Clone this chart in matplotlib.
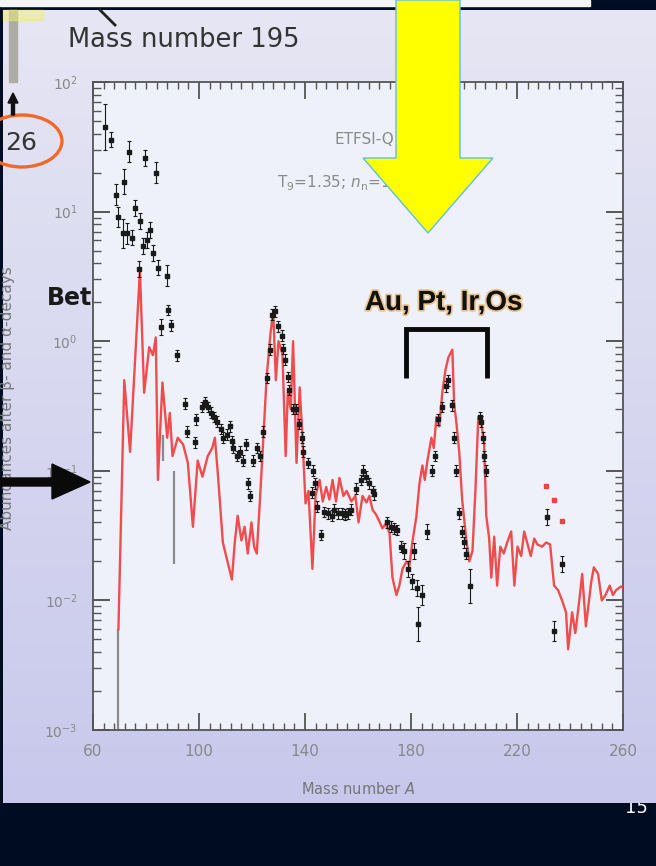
import numpy as np
import matplotlib
matplotlib.use("Agg")
import matplotlib.pyplot as plt
from matplotlib.patches import Polygon, Rectangle, Ellipse
from matplotlib.ticker import FixedLocator, MultipleLocator, LogLocator, LogFormatterSciNotation, NullFormatter
import matplotlib.patheffects as pe

# --- data ---
# model curve (red line)
model_A = [69.6, 71.8, 74.0, 77.7, 79.3, 81.2, 82.6, 83.7, 84.5, 86.2, 88.0, 89.0, 90.0, 92.0, 94.0,
           95.8, 97.7, 99.5, 101.3, 103.3, 105.0, 106.0, 107.2, 109.0, 111.0, 112.4, 113.5, 114.6,
           116.0, 117.2, 118.4, 119.8, 120.8, 121.8, 122.9, 124.0, 125.5, 127.0, 128.0, 129.0,
           130.0, 131.5, 132.7, 133.5, 134.6, 135.5, 136.8, 138.0, 139.0, 140.2, 141.3, 142.8,
           144.0, 145.5, 146.7, 148.0, 149.2, 150.4, 151.7, 153.0, 154.5, 155.7, 157.5, 159.0,
           160.2, 161.7, 163.2, 164.3, 165.5, 166.8, 168.0, 169.2, 170.5, 171.9, 173.0, 174.5,
           175.6, 176.8, 178.3, 179.4, 180.5, 182.0, 183.2, 184.3, 185.2, 186.2, 187.7, 188.6,
           189.6, 190.7, 191.8, 193.0, 194.1, 195.6, 196.3, 197.0, 198.2, 199.3, 200.9, 202.0,
           203.2, 204.3, 205.4, 206.5, 207.6, 208.4, 209.5, 210.3, 211.4, 212.5, 213.7, 215.0,
           216.3, 217.8, 219.0, 220.2, 221.6, 222.7, 223.8, 225.2, 226.5, 227.7, 229.5, 231.0,
           232.5, 234.0, 235.5, 237.0, 238.5, 239.3, 240.8, 242.0, 243.5, 244.6, 246.0, 248.0,
           249.0, 250.6, 252.0, 253.4, 255.0, 256.2, 257.4, 259.2, 260.0]
model_Y = [0.006, 0.50, 0.14, 3.5, 0.40, 0.90, 0.78, 1.07, 0.085, 0.48, 0.18, 0.28, 0.13, 0.18, 0.16,
           0.115, 0.037, 0.12, 0.09, 0.13, 0.15, 0.18, 0.09, 0.028, 0.019, 0.0145, 0.028, 0.045,
           0.029, 0.037, 0.023, 0.040, 0.026, 0.023, 0.055, 0.14, 0.52, 1.16, 1.7, 0.5,
           1.0, 0.8, 0.13, 0.40, 0.30, 1.0, 0.115, 0.44, 0.19, 0.056, 0.07, 0.0175,
           0.065, 0.085, 0.058, 0.075, 0.06, 0.085, 0.058, 0.088, 0.064, 0.07, 0.058, 0.064,
           0.040, 0.064, 0.057, 0.064, 0.050, 0.046, 0.041, 0.036, 0.039, 0.033, 0.015, 0.011,
           0.013, 0.0175, 0.020, 0.0185, 0.028, 0.044, 0.08, 0.11, 0.085, 0.12, 0.18, 0.15,
           0.26, 0.22, 0.40, 0.60, 0.75, 0.86, 0.32, 0.25, 0.14, 0.06, 0.029, 0.020,
           0.024, 0.07, 0.26, 0.24, 0.16, 0.045, 0.030, 0.015, 0.031, 0.013, 0.026, 0.023,
           0.028, 0.034, 0.013, 0.026, 0.022, 0.034, 0.028, 0.022, 0.030, 0.027, 0.026, 0.028,
           0.027, 0.013, 0.012, 0.010, 0.0081, 0.0042, 0.0081, 0.0056, 0.010, 0.016, 0.0063, 0.0138,
           0.018, 0.016, 0.010, 0.011, 0.013, 0.011, 0.012, 0.0128, 0.0125]

# observed abundances (black points) and relative errors
obs_A = [64.5, 66.8, 68.6, 69.4, 71.3, 71.7, 72.8, 73.6, 74.7, 75.8, 77.3, 77.7, 78.8, 79.6, 80.3,
         81.5, 82.6, 83.7, 84.5, 85.6, 87.9, 88.4, 89.4, 91.6, 94.7, 95.5, 98.4, 98.8, 101.0,
         102.2, 103.3, 104.4, 105.5, 106.7, 108.2, 109.0, 110.5, 111.6, 112.4, 113.0, 114.2,
         115.3, 116.5, 117.6, 118.4, 119.1, 120.3, 121.8, 123.0, 124.0, 125.5, 126.7, 127.4,
         128.6, 129.7, 131.2, 131.8, 132.3, 133.4, 134.0, 135.3, 136.5, 137.6, 138.7, 139.3,
         141.0, 142.5, 142.9, 143.8, 144.7, 146.2, 147.0, 148.5, 150.0, 151.1, 152.5, 153.8,
         155.0, 156.2, 157.5, 159.4, 161.0, 161.7, 163.2, 164.3, 165.5, 166.0, 171.0, 172.6,
         173.7, 174.9, 176.4, 177.5, 178.7, 180.2, 181.3, 182.4, 182.8, 184.3, 186.2, 188.0,
         189.2, 190.3, 191.8, 193.3, 194.1, 195.6, 196.3, 197.0, 198.2, 199.3, 200.0, 200.9,
         202.4, 206.1, 206.5, 207.0, 207.6, 208.4, 231.4, 234.0, 237.0]
obs_Y = [45, 36, 13.5, 9.1, 6.8, 17, 6.8, 29, 6.3, 10.7, 3.6, 8.5, 5.4, 26, 6.0,
         7.2, 4.8, 20, 3.7, 1.29, 3.2, 1.74, 1.33, 0.78, 0.33, 0.20, 0.166, 0.25, 0.31,
         0.34, 0.31, 0.28, 0.26, 0.24, 0.21, 0.18, 0.19, 0.22, 0.17, 0.15, 0.13,
         0.14, 0.12, 0.16, 0.08, 0.064, 0.12, 0.15, 0.13, 0.20, 0.52, 0.86, 1.6,
         1.7, 1.3, 1.1, 0.87, 0.72, 0.53, 0.42, 0.30, 0.30, 0.23, 0.18, 0.14,
         0.115, 0.068, 0.10, 0.08, 0.053, 0.032, 0.048, 0.047, 0.045, 0.05, 0.047, 0.047,
         0.046, 0.047, 0.05, 0.073, 0.085, 0.10, 0.09, 0.08, 0.07, 0.066, 0.04, 0.037,
         0.036, 0.035, 0.026, 0.024, 0.0175, 0.014, 0.024, 0.0125, 0.0066, 0.011, 0.034, 0.10,
         0.13, 0.25, 0.31, 0.45, 0.50, 0.32, 0.18, 0.10, 0.047, 0.034, 0.028, 0.023,
         0.013, 0.26, 0.24, 0.18, 0.13, 0.10, 0.044, 0.0058, 0.019]
obs_err = [0.5, 0.15, 0.2, 0.2, 0.3, 0.25, 0.2, 0.2, 0.15, 0.15, 0.15, 0.15, 0.15, 0.15, 0.15,
           0.15, 0.15, 0.2, 0.15, 0.15, 0.2, 0.1, 0.1, 0.1, 0.1, 0.1, 0.1, 0.1, 0.1,
           0.1, 0.1, 0.1, 0.1, 0.1, 0.1, 0.1, 0.1, 0.1, 0.1, 0.1, 0.1,
           0.1, 0.1, 0.1, 0.1, 0.1, 0.1, 0.1, 0.1, 0.1, 0.1, 0.1, 0.1,
           0.1, 0.1, 0.1, 0.1, 0.1, 0.1, 0.1, 0.1, 0.1, 0.1, 0.1, 0.1,
           0.1, 0.1, 0.1, 0.1, 0.1, 0.1, 0.1, 0.1, 0.1, 0.1, 0.1, 0.1,
           0.1, 0.1, 0.1, 0.1, 0.1, 0.1, 0.1, 0.1, 0.1, 0.1, 0.1, 0.1,
           0.1, 0.1, 0.1, 0.15, 0.15, 0.15, 0.15, 0.15, 0.35, 0.2, 0.15, 0.1,
           0.1, 0.1, 0.1, 0.1, 0.1, 0.1, 0.1, 0.1, 0.1, 0.1, 0.1, 0.1,
           0.35, 0.1, 0.1, 0.1, 0.1, 0.1, 0.15, 0.2, 0.15]

# gray ranges (limits)
gray_A = [69.4, 86.4, 90.5]
gray_lo = [0.001, 0.12, 0.019]
gray_hi = [0.006, 0.19, 0.10]

# red squares
red_A = [231.0, 234.0, 237.0]
red_Y = [0.076, 0.060, 0.041]

x_ticks = [60, 100, 140, 180, 220, 260]

W, H = 656, 866
fig = plt.figure(figsize=(W / 100, H / 100), dpi=100, facecolor="#000c22")

# background layer in pixel coordinates
bg = fig.add_axes([0, 0, 1, 1], zorder=-5)
bg.set_xlim(0, W)
bg.set_ylim(H, 0)
bg.axis("off")
bg.add_patch(Rectangle((0, 0), W, H, color="#000c22", zorder=0))
bg.add_patch(Rectangle((0, 0), 590, 6, color="#f4f4f4", zorder=1))
bg.text(636, 808, "15", color="white", fontsize=13, ha="center", va="center", zorder=1)
grad = np.linspace(0, 1, 200).reshape(-1, 1)
top_c = np.array([0xe6, 0xe6, 0xf4]) / 255
bot_c = np.array([0xc8, 0xc8, 0xec]) / 255
img = top_c[None, None, :] * (1 - grad[:, :, None]) + bot_c[None, None, :] * grad[:, :, None]
bg.imshow(img, extent=[3, W, 803, 10], aspect="auto", zorder=2)
bg.add_patch(Rectangle((9, 10), 8, 72, color="#adada6", zorder=3))
bg.add_patch(Rectangle((3, 10), 40, 10, color="#f2f070", alpha=0.5, zorder=3))
bg.plot([100, 115], [10, 25], color="#222", lw=2, zorder=3)
bg.text(47, 298, "Beta", fontsize=17, fontweight="bold", color="#1a1a1a",
        ha="left", va="center", zorder=3)
bg.set_xlim(0, W)
bg.set_ylim(H, 0)

# main chart
L, R, T, B = 93, 623, 82, 730
ax = fig.add_axes([L / W, (H - B) / H, (R - L) / W, (B - T) / H], zorder=1)
ax.set_facecolor("#eef1f9")
ax.set_yscale("log")
ax.set_xlim(60, 260)
ax.set_ylim(1e-3, 1e2)

ax.vlines(gray_A, gray_lo, gray_hi, color="#8a8a8a", lw=1.6, zorder=2)
ax.plot(model_A, model_Y, color="#ee3a3a", lw=1.7, alpha=0.9, zorder=3)
obs_Y_arr = np.array(obs_Y)
obs_err_arr = np.array(obs_err)
yerr = [obs_Y_arr - obs_Y_arr / (1 + obs_err_arr), obs_Y_arr * obs_err_arr]
ax.errorbar(obs_A, obs_Y, yerr=yerr, fmt="s", ms=2.2, color="#1a1a1a", ecolor="#1a1a1a",
            elinewidth=0.8, capsize=1.3, capthick=0.8, zorder=4)
ax.plot(red_A, red_Y, "s", ms=3.2, color="#e84545", zorder=4)

ax.text(335, 140, "ETFSI-Q", transform=bg.transData, fontsize=11, color="#8a8a8a",
        va="center", ha="left", zorder=5)
ax.text(277, 182, r"T$_9$=1.35; $\it{n}_\mathrm{n}$=10$^{20}$", transform=bg.transData, fontsize=11,
        color="#8a8a8a", va="center", ha="left", zorder=5)

for s in ax.spines.values():
    s.set_color("#555555")
    s.set_linewidth(1.3)
ax.xaxis.set_major_locator(FixedLocator(x_ticks))
ax.xaxis.set_minor_locator(MultipleLocator(4))
ax.yaxis.set_major_locator(LogLocator(base=10, numticks=10))
ax.yaxis.set_minor_locator(LogLocator(base=10, subs=np.arange(2, 10), numticks=10))
ax.yaxis.set_major_formatter(LogFormatterSciNotation())
ax.yaxis.set_minor_formatter(NullFormatter())
ax.tick_params(which="both", direction="in", top=True, right=True, color="#555555")
ax.tick_params(axis="x", which="major", length=12, width=1.3, pad=10, labelsize=11,
               labelcolor="#888888")
ax.tick_params(axis="x", which="minor", length=5, width=1.0)
ax.tick_params(axis="y", which="major", length=12, width=1.4, pad=11, labelsize=10,
               labelcolor="#888888")
ax.tick_params(axis="y", which="minor", length=6, width=1.0)
ax.set_xlabel(r"Mass number $\it{A}$", fontsize=10.5, color="#777777", labelpad=16)
ax.set_ylabel("Abundances after β- and α-decays", fontsize=11, color="#777777")
ax.yaxis.set_label_coords((15 - L) / (R - L), (B - 398) / (B - T))

# overlay annotations in pixel coordinates
ov = fig.add_axes([0, 0, 1, 1], zorder=10)
ov.set_xlim(0, W)
ov.set_ylim(H, 0)
ov.axis("off")
ov.patch.set_alpha(0)

ov.text(68, 40, "Mass number 195", fontsize=18.5, color="#333333", ha="left", va="center")
ov.text(21, 143, "26", fontsize=18, color="#333333", ha="center", va="center")
ov.add_patch(Ellipse((22, 141), 80, 52, fill=False, ec="#f0692a", lw=2.4))
# small up arrow
ov.add_patch(Polygon([[11.5, 115], [14.5, 115], [14.5, 103], [18, 103], [13, 93], [8, 103], [11.5, 103]],
                     closed=True, color="#111111"))
# black right arrow
ov.add_patch(Polygon([[0, 478], [52, 478], [52, 464], [90, 482], [52, 499], [52, 486], [0, 486]],
                     closed=True, color="#0a0a0a"))
# yellow arrow
ov.add_patch(Polygon([[396, 0], [460, 0], [460, 158], [493, 158], [428, 233], [363, 158], [396, 158]],
                     closed=True, fc="#ffff00", ec="#5bbfee", lw=1.0))

txt = ov.text(365, 303, "Au, Pt, Ir,Os", fontsize=20, fontweight="bold", family="Liberation Sans",
              color="#111111", ha="left", va="center")
txt.set_path_effects([pe.withStroke(linewidth=2.5, foreground="#e8b060", alpha=0.7)])
ov.plot([406, 406, 487, 487], [378, 329, 329, 378], color="#0a0a0a", lw=3.5,
        solid_joinstyle="miter", solid_capstyle="butt")

fig.savefig("out.png", dpi=100, facecolor=fig.get_facecolor())
